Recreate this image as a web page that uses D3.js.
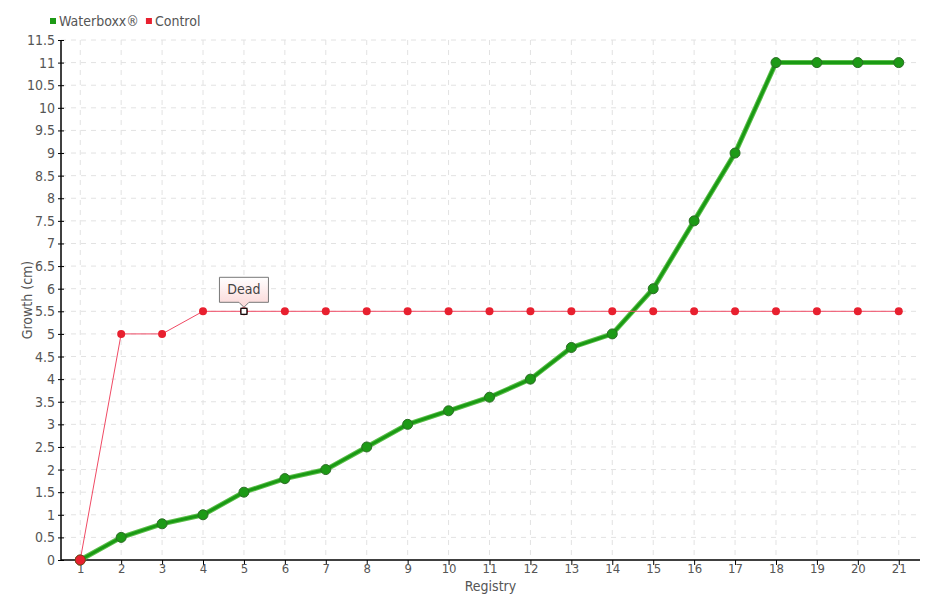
<!DOCTYPE html>
<html>
<head>
<meta charset="utf-8">
<script src="https://cdn.jsdelivr.net/npm/d3@7"></script>
<style>
  body { margin: 0; background: #fff; }
  svg text { font-family: "Liberation Sans Narrow", "DejaVu Sans Condensed", sans-serif; font-stretch: condensed; fill: #555; }
</style>
</head>
<body>
<svg id="chart" width="940" height="600"></svg>
<script>
var registry = d3.range(1, 22);
var waterboxx = [0, 0.5, 0.8, 1, 1.5, 1.8, 2, 2.5, 3, 3.3, 3.6, 4, 4.7, 5, 6, 7.5, 9, 11, 11, 11, 11];
var control = [0, 5, 5, 5.5, 5.5, 5.5, 5.5, 5.5, 5.5, 5.5, 5.5, 5.5, 5.5, 5.5, 5.5, 5.5, 5.5, 5.5, 5.5, 5.5, 5.5];
var yTicks = d3.range(0, 11.51, 0.5);
var deadIndex = 4;

var svg = d3.select("#chart");
var plotLeft = 61, plotRight = 920, plotTop = 40, plotBottom = 560;

var xs = d3.scalePoint().domain(registry).range([plotLeft, 918]).padding(0.47);
var ys = d3.scaleLinear().domain([0, 11.5]).range([plotBottom, plotTop]);

// grid
var grid = svg.append("g");
grid.selectAll("line.h")
    .data(yTicks.slice(1))
    .enter().append("line")
    .attr("x1", plotLeft).attr("x2", plotRight)
    .attr("y1", function(d) { return ys(d); })
    .attr("y2", function(d) { return ys(d); })
    .attr("stroke", "#e2e2e2").attr("stroke-dasharray", "5,5");
grid.selectAll("line.v")
    .data(registry)
    .enter().append("line")
    .attr("x1", function(d) { return xs(d); })
    .attr("x2", function(d) { return xs(d); })
    .attr("y1", plotTop).attr("y2", plotBottom)
    .attr("stroke", "#e2e2e2").attr("stroke-dasharray", "5,5");

// axes
var yAxis = d3.axisLeft(ys).tickValues(yTicks).tickSize(4).tickFormat(d3.format("~g"));
var gy = svg.append("g").attr("transform", "translate(" + plotLeft + ",0)").call(yAxis);
gy.select(".domain").attr("stroke", "#000").attr("stroke-width", 1.5)
    .attr("d", "M0," + plotTop + "V" + plotBottom);
gy.selectAll(".tick line").attr("stroke", "#000").attr("x2", 3).attr("x1", -3);
gy.selectAll(".tick text").attr("x", -6).style("font-size", "14px").style("fill", "#555");

var xAxis = d3.axisBottom(xs).tickSize(5);
var gx = svg.append("g").attr("transform", "translate(0," + plotBottom + ")").call(xAxis);
gx.select(".domain").attr("stroke", "#000").attr("stroke-width", 1.5)
    .attr("d", "M" + plotLeft + ",0H" + plotRight);
gx.selectAll(".tick line").attr("stroke", "#000");
gx.selectAll(".tick text").attr("y", 4).style("font-size", "13px").style("fill", "#555");

svg.append("text")
    .attr("transform", "translate(32," + ((plotTop + plotBottom) / 2) + ") rotate(-90)")
    .style("text-anchor", "middle").style("font-size", "14px")
    .text("Growth (cm)");
svg.append("text")
    .attr("x", (plotLeft + plotRight) / 2).attr("y", 591)
    .style("text-anchor", "middle").style("font-size", "14px")
    .text("Registry");

var line = d3.line()
    .x(function(d, i) { return xs(registry[i]); })
    .y(function(d) { return ys(d); });

// waterboxx series
svg.append("path").datum(waterboxx)
    .attr("d", line).attr("fill", "none")
    .attr("stroke", "#5cbf4a").attr("stroke-width", 5);
svg.append("path").datum(waterboxx)
    .attr("d", line).attr("fill", "none")
    .attr("stroke", "#1a9a14").attr("stroke-width", 3);
svg.append("g").selectAll("circle")
    .data(waterboxx).enter().append("circle")
    .attr("cx", function(d, i) { return xs(registry[i]); })
    .attr("cy", function(d) { return ys(d); })
    .attr("r", 5)
    .attr("fill", "#1d9a16").attr("stroke", "#2b6e25").attr("stroke-width", 1);

// control series
svg.append("path").datum(control)
    .attr("d", line).attr("fill", "none")
    .attr("stroke", "#f04a64").attr("stroke-width", 1);
var ctDots = [];
control.forEach(function(d, i) { ctDots.push([registry[i], d]); });
svg.append("g").selectAll("circle")
    .data(ctDots).enter().append("circle")
    .attr("cx", function(d) { return xs(d[0]); })
    .attr("cy", function(d) { return ys(d[1]); })
    .attr("r", function(d) { return d[0] == 1 ? 5 : 4; })
    .attr("fill", "#e8202f")
    .attr("stroke", function(d) { return d[0] == 1 ? "#8b3a1a" : "none"; });

// dead marker
var dx = xs(registry[deadIndex]), dy = ys(control[deadIndex]);
svg.append("rect").attr("x", dx - 3).attr("y", dy - 3).attr("width", 6).attr("height", 6)
    .attr("fill", "#fff").attr("stroke", "#000").attr("stroke-width", 1.2);

// tooltip
var defs = svg.append("defs");
var grad = defs.append("linearGradient").attr("id", "tipgrad")
    .attr("x1", 0).attr("y1", 0).attr("x2", 0).attr("y2", 1);
grad.append("stop").attr("offset", "0%").attr("stop-color", "#ffffff");
grad.append("stop").attr("offset", "100%").attr("stop-color", "#fbd6d6");
var tw = 49, th = 25, ty = dy - 34;
svg.append("path")
    .attr("d", "M" + (dx - tw / 2) + "," + ty + "h" + tw + "v" + th + "h" + (-(tw / 2 - 5)) +
        "l-5,5l-5,-5h" + (-(tw / 2 - 5)) + "z")
    .attr("fill", "url(#tipgrad)").attr("stroke", "#777").attr("stroke-width", 1);
svg.append("text").attr("x", dx).attr("y", ty + 17)
    .style("text-anchor", "middle").style("font-size", "14px").style("fill", "#444")
    .text("Dead");

// legend
var legend = [["Waterboxx®", "#1d9a16"], ["Control", "#e8202f"]];
var lx = 50;
legend.forEach(function(l) {
    svg.append("rect").attr("x", lx).attr("y", 18).attr("width", 6).attr("height", 6).attr("fill", l[1]);
    var t = svg.append("text").attr("x", lx + 9).attr("y", 26).style("font-size", "14px").text(l[0]);
    lx += 9 + t.node().getComputedTextLength() + 7;
});
</script>
</body>
</html>
